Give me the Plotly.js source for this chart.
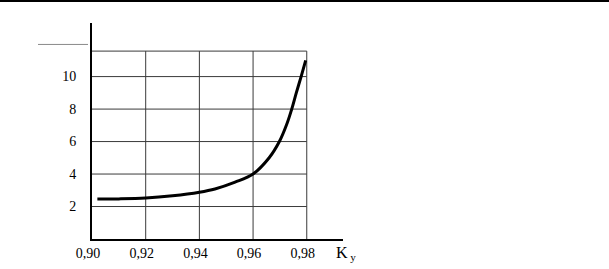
<!DOCTYPE html>
<html>
<head>
<meta charset="utf-8">
<script src="https://cdn.plot.ly/plotly-3.0.1.min.js"></script>
<style>html,body{margin:0;padding:0;background:#fff;}#chart{width:609px;height:269px;}</style>
</head>
<body>
<div id="chart"></div>
<script>
// Curve values
var kyValues = [0.902, 0.91, 0.92, 0.93, 0.94, 0.9458, 0.9533, 0.960, 0.9660, 0.9698, 0.9724, 0.9744, 0.9761, 0.9779, 0.9796];
var curveValues = [2.46, 2.47, 2.52, 2.66, 2.88, 3.08, 3.50, 4.0, 5.0, 6.0, 7.0, 8.0, 9.0, 10.0, 11.0];

// Axis ticks
var xTickVals = [0.90, 0.92, 0.94, 0.96, 0.98];
var xTickText = ["0,90", "0,92", "0,94", "0,96", "0,98"];
var yTickVals = [2, 4, 6, 8, 10];
var yTickText = ["2", "4", "6", "8", "10"];

// Grid extents
var gridXMax = 0.98;
var gridYMax = 11.57;
var gridXLines = [0.92, 0.94, 0.96, 0.98];
var gridYLines = [2, 4, 6, 8, 10, 11.57];

var shapes = [];
gridXLines.forEach(function (v) {
  shapes.push({type: 'line', xref: 'x', yref: 'y', x0: v, x1: v, y0: 0, y1: gridYMax,
    line: {color: '#3a3a3a', width: 1}, layer: 'below'});
});
gridYLines.forEach(function (v) {
  shapes.push({type: 'line', xref: 'x', yref: 'y', x0: 0.90, x1: gridXMax, y0: v, y1: v,
    line: {color: '#3a3a3a', width: 1}, layer: 'below'});
});
// top rule of the page
shapes.push({type: 'line', xref: 'paper', yref: 'paper', x0: -92 / 251, x1: 517 / 251,
  y0: 238 / 216, y1: 238 / 216, line: {color: '#000', width: 2}});
// short grey stroke at the top left of the axis
shapes.push({type: 'line', xref: 'paper', yref: 'y', x0: -54 / 251, x1: -4 / 251,
  y0: 11.98, y1: 11.98, line: {color: '#8a8a8a', width: 1}});

var trace = {
  x: kyValues, y: curveValues, type: 'scatter', mode: 'lines',
  line: {color: '#000', width: 3, shape: 'spline', smoothing: 1},
  hoverinfo: 'none', showlegend: false
};

var serif = 'Times New Roman, Liberation Serif, serif';
var layout = {
  width: 609, height: 269,
  margin: {l: 92, r: 266, t: 23, b: 30, pad: 0},
  paper_bgcolor: '#fff', plot_bgcolor: '#fff',
  font: {family: serif, size: 14, color: '#000'},
  showlegend: false,
  xaxis: {
    range: [0.90, 0.9935], tickvals: xTickVals, ticktext: xTickText,
    tickfont: {family: serif, size: 14, color: '#000'},
    showgrid: false, zeroline: false, showline: true, linecolor: '#000', linewidth: 2,
    ticks: '', ticklabelstandoff: 0, ticklabelshift: -4, fixedrange: true
  },
  yaxis: {
    range: [0, 13.3], tickvals: yTickVals, ticktext: yTickText,
    tickfont: {family: serif, size: 14, color: '#000'},
    showgrid: false, zeroline: false, showline: true, linecolor: '#000', linewidth: 2,
    ticks: '', ticklabelstandoff: 11, fixedrange: true
  },
  shapes: shapes,
  annotations: [{
    xref: 'paper', yref: 'paper', x: (334 - 92) / 251, y: (239 - 253) / 216,
    xanchor: 'left', yanchor: 'middle', showarrow: false,
    text: 'K<sub> y</sub>', font: {family: serif, size: 16, color: '#000'}
  }]
};

Plotly.newPlot('chart', [trace], layout, {displayModeBar: false, staticPlot: true});
</script>
</body>
</html>
